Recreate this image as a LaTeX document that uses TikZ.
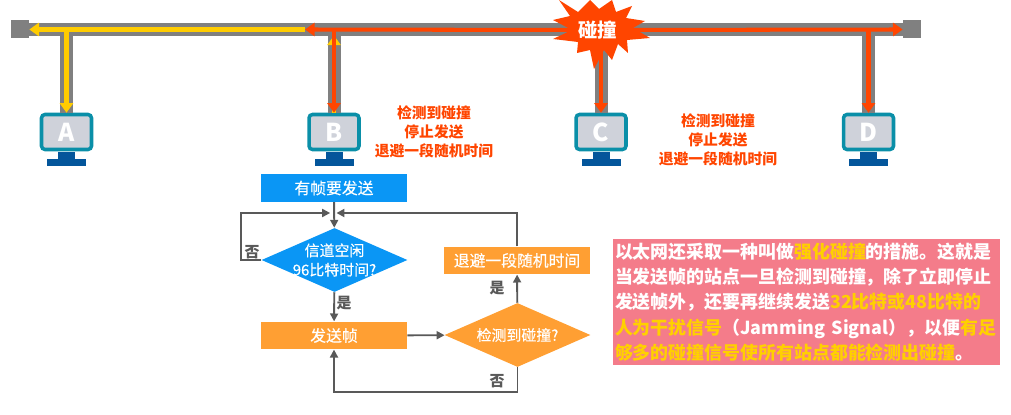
\documentclass[tikz,border=0pt]{standalone}
\usepackage{xcolor}
\usepackage{fontspec}
\setmainfont{Noto Sans CJK SC}
\newfontfamily\medfont[FakeBold=0.4]{Noto Sans CJK SC}
\usetikzlibrary{shapes.geometric, arrows.meta}
\definecolor{busgray}{HTML}{808080}
\definecolor{hitred}{HTML}{FF4500}
\definecolor{sigyellow}{HTML}{FFCC00}
\definecolor{monteal}{HTML}{0A8FA8}
\definecolor{screengray}{HTML}{CFD2DA}
\definecolor{standblue}{HTML}{04569B}
\definecolor{flowblue}{HTML}{0A96F5}
\definecolor{floworange}{HTML}{FF9F33}
\definecolor{linegray}{HTML}{595959}
\definecolor{notepink}{HTML}{F47C8A}
\definecolor{noteyellow}{HTML}{FFD000}
\newcommand{\hot}[1]{\textcolor{noteyellow}{#1}}
\tikzset{
  endcap/.style={fill=busgray, minimum size=0.36cm, inner sep=0},
  busline/.style={draw=busgray, line width=7.4pt},
  sigarrow/.style={line width=2.3pt, -{Triangle[width=7.5pt,length=5.5pt]}},
  screen/.style={draw=monteal, fill=screengray, line width=2pt, rounded corners=2pt,
    minimum width=1cm, minimum height=0.7cm, inner sep=0, text=white, font=\fontsize{14}{14}\selectfont\bfseries},
  flowbox/.style={minimum width=2.92cm, minimum height=0.55cm, inner sep=0, text=white, font=\medfont\fontsize{9}{10}\selectfont},
  flowdiamond/.style={diamond, minimum width=2.92cm, minimum height=1.28cm, inner sep=0, shape aspect=2.28},
  difflabel/.style={text=white, align=center, font=\medfont\fontsize{8.5}{11}\selectfont},
  flowline/.style={draw=linegray, line width=1.1pt, -{Triangle[width=4.5pt,length=4.5pt]}},
  yesno/.style={text=linegray, font=\fontsize{8.5}{10}\selectfont\bfseries},
  hitnote/.style={text=hitred, align=center, font=\fontsize{8.4}{10.8}\selectfont\bfseries}
}

\begin{document}
\begin{tikzpicture}[x=0.02cm, y=-0.02cm]
  \useasboundingbox (0,0) rectangle (1011,415);

  % Bus and its two ends
  \node[endcap] (busL) at (20,29.5) {};
  \node[endcap] (busR) at (912,29.5) {};
  \draw[busline] (busL) -- (busR);

  % Stations
  \foreach \name/\x in {A/66.5, B/334, C/601, D/868.5} {
    \node[screen] (mon\name) at (\x,132) {\name};
    \node[fill=standblue, minimum width=0.34cm, minimum height=0.14cm, inner sep=0] (neck\name) at (\x,156) {};
    \node[fill=standblue, minimum width=0.78cm, minimum height=0.15cm, inner sep=0] (base\name) at (\x,162.5) {};
    \coordinate (drop\name) at (\x,29.5);
    \draw[busline] (drop\name) -- (mon\name.north);
  }

  % Collision burst
  \fill[hitred] (559,0) -- (578,12) -- (590,0) -- (599,9) -- (612,0) -- (616,12) -- (632,6) -- (626,18)
    -- (645,21) -- (633,28) -- (650,38) -- (627,40) -- (628,53) -- (618,44) -- (612,60) -- (604,50)
    -- (594,69) -- (590,50) -- (577,53) -- (578,42) -- (553,39) -- (572,30) -- (553,20) -- (570,16) -- cycle;
  \node[text=white, inner sep=0, font=\fontsize{11}{12}\selectfont\bfseries] (hit) at (597.5,30) {碰撞};

  % Signal from A
  \coordinate (front) at (305,29.5);
  \draw[sigarrow, sigyellow] (front) -- (busL.east);
  \draw[sigarrow, sigyellow] (dropA) -- (monA.north);
  \draw[sigarrow, sigyellow, shorten >=3.4pt] (monB.north) -- (dropB);

  % Signal from the collision
  \draw[sigarrow, hitred] (hit.west) -- (front);
  \draw[sigarrow, hitred] (hit.east) -- (busR.west);
  \draw[sigarrow, hitred] (dropB) -- (monB.north);
  \draw[sigarrow, hitred] (monC.north |- hit.south) -- (monC.north);
  \draw[sigarrow, hitred] (dropD) -- (monD.north);

  % Notes beside B and C
  \node[hitnote] (noteB) at (434,132) {检测到碰撞\\停止发送\\退避一段随机时间};
  \node[hitnote] (noteC) at (718,139.5) {检测到碰撞\\停止发送\\退避一段随机时间};

  % Flow chart
  \node[flowbox, fill=flowblue] (start) at (334,188) {有帧要发送};
  \node[flowdiamond, fill=flowblue, label={[difflabel]center:信道空闲\\96比特时间?}] (idle) at (334.5,260) {};
  \node[flowbox, fill=floworange] (send) at (334,335.5) {发送帧};
  \node[flowdiamond, fill=floworange, label={[difflabel]center:检测到碰撞?}] (detect) at (517.5,335) {};
  \node[flowbox, fill=floworange] (backoff) at (517,260.5) {退避一段随机时间};

  % Flow connectors
  \coordinate (join) at (334,213);
  \coordinate (loopL) at (241,213);
  \coordinate (loopB) at (517.5,392);
  \draw[flowline] (start) -- (idle);
  \draw[flowline] (idle) -- (send);
  \draw[flowline] (send) -- (detect);
  \draw[flowline] (detect) -- (backoff);
  \draw[flowline, shorten >=2.2pt] (idle.west) -| (loopL) -- (join);
  \draw[flowline, shorten >=1.4pt] (backoff.north) |- (join);
  \draw[flowline] (detect.south) -- (loopB) -| (send.south);

  % Yes and no
  \node[yesno] (noIdle) at (252,252) {否};
  \node[yesno] (yesIdle) at (344,303) {是};
  \node[yesno] (yesHit) at (497,288) {是};
  \node[yesno] (noHit) at (497,381) {否};

  % Jamming note
  \node[fill=notepink, text=white, minimum width=7.74cm, minimum height=2.52cm, inner sep=0.04cm,
    text width=7.66cm, align=left, font=\fontsize{10.2}{14.4}\selectfont\bfseries] (jam) at (806.5,302)
    {以太网还采取一种叫做\hot{强化碰撞}的措施。这就是\\
     当发送帧的站点一旦检测到碰撞，除了立即停止\\
     发送帧外，还要再继续发送\hot{32比特或48比特的}\\
     \hot{人为干扰信号}（Jamming Signal），以便\hot{有足}\\
     \hot{够多的碰撞信号使所有站点都能检测出碰撞}。};
\end{tikzpicture}
\end{document}
